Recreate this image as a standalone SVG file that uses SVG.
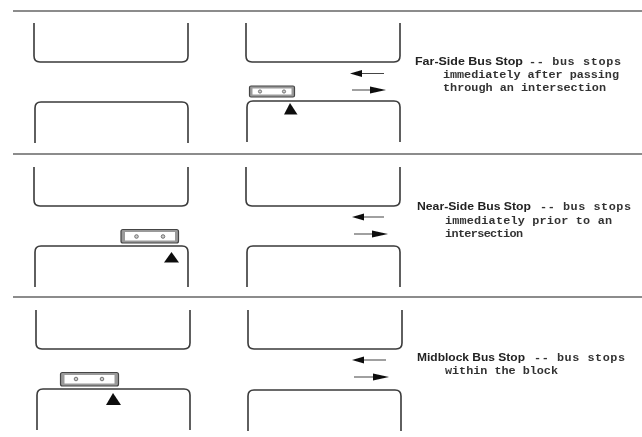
<svg xmlns="http://www.w3.org/2000/svg" width="642" height="437" viewBox="0 0 642 437">
<style>
.rule{stroke:#666;stroke-width:1.5;fill:none}
.block{stroke:#3a3a3a;stroke-width:1.6;fill:none}
.arrow{stroke:#444;stroke-width:1.2;fill:none}
.head{fill:#111}
.bus{fill:#9a9a9a;stroke:#444;stroke-width:1.2}
.busin{fill:#fff;stroke:none}
.wheel{fill:#ccc;stroke:#666;stroke-width:.9}
.h{font-family:"Liberation Sans",Arial,sans-serif;font-weight:700;font-size:10px;fill:#222}
.t{font-family:"Liberation Mono","Courier New",monospace;font-size:11.8px;fill:#333;font-weight:700}
</style>
<defs>
<filter id="soft" x="-5%" y="-5%" width="110%" height="110%"><feGaussianBlur stdDeviation="0.6"/></filter>
<path id="up" class="block" d="M0 0V33Q0 39 6 39H148Q154 39 154 33V0"/>
<path id="down" class="block" d="M0 41V6Q0 0 6 0H147Q153 0 153 6V41"/>
</defs>
<g filter="url(#soft)">
<g id="rules">
<path class="rule" d="M13 11H642"/>
<path class="rule" d="M13 154H642"/>
<path class="rule" d="M13 297H642"/>
</g>
<g id="blocks-far">
<use href="#up" x="34" y="23"/><use href="#up" x="246" y="23"/>
<use href="#down" x="35" y="102"/><use href="#down" x="247" y="101"/>
</g>
<g id="blocks-near">
<use href="#up" x="34" y="167"/><use href="#up" x="246" y="167"/>
<use href="#down" x="35" y="246"/><use href="#down" x="247" y="246"/>
</g>
<g id="blocks-mid">
<use href="#up" x="36" y="310"/><use href="#up" x="248" y="310"/>
<use href="#down" x="37" y="389"/><use href="#down" x="248" y="390"/>
</g>
<g id="connectors">
<path class="arrow" d="M362 73.500H384M352 90H372"/>
<path class="head" d="M350 73.500L362 70V77Z"/><path class="head" d="M386 90L370 86.500V93.500Z"/>
<path class="arrow" d="M362 217H384M354 234H372"/>
<path class="head" d="M352 217L364 213.500V220.500Z"/><path class="head" d="M388 234L372 230.500V237.500Z"/>
<path class="arrow" d="M362 360H386M354 377H374"/>
<path class="head" d="M352 360L364 356.500V363.500Z"/><path class="head" d="M389 377L373 373.500V380.500Z"/>
</g>
<g id="bus-far">
<rect class="bus" x="249.500" y="86" width="45" height="11" rx="1.500"/>
<rect class="busin" x="252.500" y="88.500" width="39" height="6"/>
<circle class="wheel" cx="260" cy="91.500" r="1.600"/><circle class="wheel" cx="284" cy="91.500" r="1.600"/>
<path class="head" d="M290 103L297.500 114.500H284Z"/>
</g>
<g id="bus-near">
<rect class="bus" x="121" y="229.500" width="57.500" height="13.500" rx="2"/>
<rect class="busin" x="125" y="232" width="50" height="8.500"/>
<circle class="wheel" cx="136.500" cy="236.500" r="1.800"/><circle class="wheel" cx="163" cy="236.500" r="1.800"/>
<path class="head" d="M171.500 252L179 262.500H164Z"/>
</g>
<g id="bus-mid">
<rect class="bus" x="60.500" y="372.500" width="58" height="13.500" rx="2"/>
<rect class="busin" x="64.500" y="375" width="50" height="8.500"/>
<circle class="wheel" cx="76" cy="379" r="1.800"/><circle class="wheel" cx="102" cy="379" r="1.800"/>
<path class="head" d="M113 393L121 405H106Z"/>
</g>
<g id="label-far">
<text class="h" x="415" y="65" textLength="108" lengthAdjust="spacingAndGlyphs">Far-Side Bus Stop</text>
<text class="t" x="529" y="65" textLength="92">-- bus stops</text>
<text class="t" x="443" y="78" textLength="176">immediately after passing</text>
<text class="t" x="443" y="91" textLength="163">through an intersection</text>
</g>
<g id="label-near">
<text class="h" x="417" y="210" textLength="114" lengthAdjust="spacingAndGlyphs">Near-Side Bus Stop</text>
<text class="t" x="540" y="210" textLength="91">-- bus stops</text>
<text class="t" x="445" y="224" textLength="167">immediately prior to an</text>
<text class="t" x="445" y="237" textLength="78">intersection</text>
</g>
<g id="label-mid">
<text class="h" x="417" y="361" textLength="108" lengthAdjust="spacingAndGlyphs">Midblock Bus Stop</text>
<text class="t" x="534" y="361" textLength="91">-- bus stops</text>
<text class="t" x="445" y="374" textLength="113">within the block</text>
</g>
</g>
</svg>
